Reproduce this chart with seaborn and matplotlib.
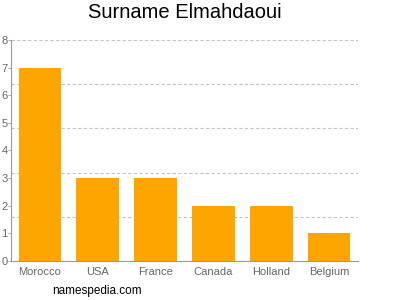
import matplotlib
matplotlib.use("Agg")
import matplotlib.pyplot as plt
import seaborn as sns
import pandas as pd
import numpy as np

countries = ["Morocco", "USA", "France", "Canada", "Holland", "Belgium"]
counts = [7, 3, 3, 2, 2, 1]
yticks = [0, 1, 2, 3, 4, 5, 6, 7, 8]
grid_levels = [1.6, 3.2, 4.8, 6.4, 8.0]

sns.set_theme(style="white")
plt.rcParams['font.family'] = ['Liberation Sans', 'DejaVu Sans']

df = pd.DataFrame({"country": countries, "count": counts})

fig = plt.figure(figsize=(4, 3), dpi=100)
ax = fig.add_axes([0.0275, 0.13, 0.8675, 0.7367])

for g in grid_levels:
    ax.axhline(g, color="#c4c4c4", linestyle=(0, (3, 2)), linewidth=0.8, zorder=0)

sns.barplot(data=df, x="country", y="count", color="#FFA500", width=0.74,
            saturation=1, ax=ax, zorder=2, linewidth=0)

ax.set_ylim(0, 8)
ax.set_xlim(-0.5, len(countries) - 0.5)
ax.set_yticks(yticks)
ax.set_yticklabels([str(t) for t in yticks])
ax.set_xlabel("")
ax.set_ylabel("")
for s in ["top", "right"]:
    ax.spines[s].set_visible(False)
for s in ["left", "bottom"]:
    ax.spines[s].set_color("#999999")
    ax.spines[s].set_linewidth(0.8)
ax.tick_params(axis="y", labelsize=8, colors="#666666", pad=0.5, length=2, width=0.6, left=True, direction="out")
ax.tick_params(axis="x", labelsize=8, colors="#666666", length=0, pad=4)
ax.tick_params(axis="y", color="#999999")

fig.text(0.461, 0.958, "Surname Elmahdaoui", ha="center", va="center", fontsize=14.5, color="#000000")
fig.text(0.13, 0.03, "namespedia.com", ha="left", va="center", fontsize=8.5, color="#000000")

fig.savefig("out.png", dpi=100)
